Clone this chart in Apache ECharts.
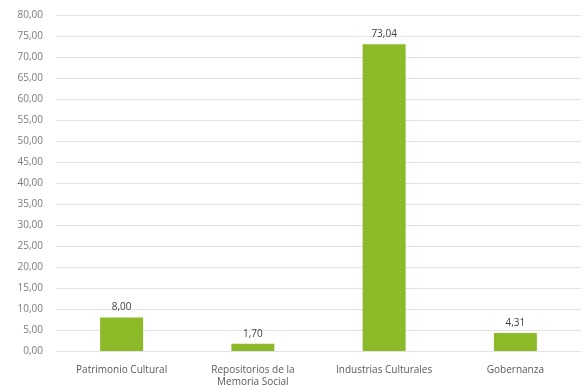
<!DOCTYPE html>
<html>
<head>
<meta charset="utf-8">
<script src="https://cdn.jsdelivr.net/npm/echarts@6/dist/echarts.min.js"></script>
<style>
    html, body { margin: 0; padding: 0; background: #fff; }
    #main { width: 581px; height: 389px; }
</style>
</head>
<body>
<div id="main"></div>
<script>
// categorias y valores
var categories = ['Patrimonio Cultural', 'Repositorios de la\nMemoria Social', 'Industrias Culturales', 'Gobernanza'];
var values = [8.00, 1.70, 73.04, 4.31];

function fmt(v) {
    return v.toFixed(2).replace('.', ',');
}

var option = {
    animation: false,
    backgroundColor: '#ffffff',
    grid: {
        left: 56,
        top: 15,
        width: 541,
        height: 336
    },
    xAxis: {
        type: 'category',
        data: categories,
        axisLine: {show: false},
        axisTick: {show: false},
        axisLabel: {
            color: '#595959',
            fontSize: 10,
            fontFamily: 'Open Sans',
            margin: 13,
            lineHeight: 12,
            interval: 0
        }
    },
    yAxis: {
        type: 'value',
        min: 0,
        max: 80,
        interval: 5,
        axisLine: {show: false},
        axisTick: {show: false},
        splitLine: {lineStyle: {color: '#e3e3e3', width: 1.2}},
        axisLabel: {
            color: '#7a7a7a',
            fontSize: 10,
            fontFamily: 'Open Sans',
            margin: 13,
            formatter: function (v) { return fmt(v); }
        }
    },
    series: [
        {
            type: 'bar',
            data: values,
            barWidth: 43,
            itemStyle: {color: '#8cba28'},
            label: {
                show: true,
                position: 'top',
                distance: 5,
                color: '#404040',
                fontSize: 10,
                fontFamily: 'Open Sans',
                formatter: function (p) { return fmt(p.value); }
            }
        }
    ]
};

var chart = echarts.init(document.getElementById('main'));
chart.setOption(option);
</script>
</body>
</html>
